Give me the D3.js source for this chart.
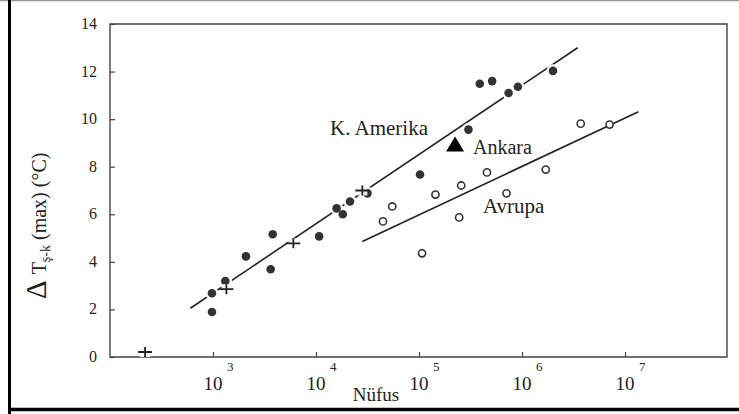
<!DOCTYPE html>
<html>
<head>
<meta charset="utf-8">
<script src="https://cdn.jsdelivr.net/npm/d3@7"></script>
<style>
  html, body { margin: 0; padding: 0; background: #fff; }
  svg { display: block; font-family: "Liberation Serif", "Times New Roman", serif; }
</style>
</head>
<body>
<svg id="chart" width="739" height="414"></svg>
<script>
// ---- data ----
const yTicks = [0, 2, 4, 6, 8, 10, 12, 14];
const xTickExponents = [3, 4, 5, 6, 7];

// K. Amerika (filled circles)
const amerikaPop  = [977, 977, 1318, 2089, 3802, 3631, 10715, 15850, 18200, 21380, 31620, 102300, 302000, 389000, 513000, 741000, 912000, 2000000];
const amerikaTemp = [1.89, 2.68, 3.19, 4.23, 5.16, 3.69, 5.07, 6.25, 6.0, 6.54, 6.88, 7.67, 9.56, 11.49, 11.6, 11.1, 11.36, 12.03];

// plus markers
const plusPop  = [219, 1349, 6026, 28180];
const plusTemp = [0.21, 2.85, 4.78, 7.0];

// Avrupa (open circles)
const avrupaPop  = [44700, 55000, 107000, 144500, 245500, 257000, 457000, 708000, 1700000, 3715000, 7080000];
const avrupaTemp = [5.70, 6.33, 4.36, 6.83, 5.87, 7.21, 7.76, 6.88, 7.88, 9.81, 9.77];

// Ankara (triangle)
const ankaraPop = [224000];
const ankaraTemp = [8.93];

// regression lines (end points)
const amerikaLinePop  = [603, 3467000];
const amerikaLineTemp = [2.05, 13.0];
const avrupaLinePop   = [28180, 13490000];
const avrupaLineTemp  = [4.86, 10.31];

// ---- drawing ----
const svg = d3.select("#chart");
const pLeft = 110, pRight = 727, pTop = 24, pBottom = 357;

const x = d3.scaleLog().domain([1e2, 1e8]).range([pLeft, pRight + 1]);
const y = d3.scaleLinear().domain([0, 14]).range([pBottom, pTop]);

const ink = "#333";

// outer frame
svg.append("line").attr("x1", 0).attr("x2", 739).attr("y1", 0.5).attr("y2", 0.5)
  .attr("stroke", "#999").attr("stroke-width", 1.5);
svg.append("line").attr("x1", 9.5).attr("x2", 9.5).attr("y1", 0).attr("y2", 414)
  .attr("stroke", "#000").attr("stroke-width", 3);
svg.append("line").attr("x1", 8).attr("x2", 739).attr("y1", 409.5).attr("y2", 409.5)
  .attr("stroke", "#000").attr("stroke-width", 3.5);

// plot frame
svg.append("path")
  .attr("d", `M${pLeft},${pBottom}V${pTop}H${pRight}V${pBottom}Z`)
  .attr("fill", "none").attr("stroke", "#444").attr("stroke-width", 1.4);

// y axis (ticks inward)
const yAxis = d3.axisRight(y).tickValues(yTicks).tickSize(5).tickFormat("");
const yg = svg.append("g").attr("transform", `translate(${pLeft},0)`).call(yAxis);
yg.select(".domain").remove();
yg.selectAll("line").attr("stroke", "#444").attr("stroke-width", 1.2);
svg.append("g").selectAll("text").data(yTicks).join("text")
  .attr("x", 97).attr("y", d => y(d) + 5)
  .attr("text-anchor", "end").attr("font-size", 16).attr("fill", "#222")
  .text(d => d);

// x axis (ticks inward)
const xTickVals = xTickExponents.map(e => Math.pow(10, e));
const xAxis = d3.axisTop(x).tickValues(xTickVals).tickSize(5).tickFormat("");
const xg = svg.append("g").attr("transform", `translate(0,${pBottom})`).call(xAxis);
xg.select(".domain").remove();
xg.selectAll("line").attr("stroke", "#444").attr("stroke-width", 1.2);
const xl = svg.append("g").selectAll("g").data(xTickExponents).join("g")
  .attr("transform", e => `translate(${x(Math.pow(10, e))},0)`);
xl.append("text").attr("x", 0).attr("y", 390).attr("text-anchor", "middle")
  .attr("font-size", 19).attr("fill", "#222").text("10");
xl.append("text").attr("x", 14).attr("y", 371).attr("text-anchor", "start")
  .attr("font-size", 13).attr("fill", "#222").text(e => e);

// axis titles
svg.append("text").attr("x", 376).attr("y", 401).attr("text-anchor", "middle")
  .attr("font-size", 19).attr("fill", "#222").text("Nüfus");

const yt = svg.append("text").attr("transform", "translate(46,299) rotate(-90)")
  .attr("text-anchor", "start").attr("fill", "#222");
yt.append("tspan").attr("font-size", 29).text("Δ");
yt.append("tspan").attr("font-size", 20).attr("dx", 6).text("T");
yt.append("tspan").attr("font-size", 14).attr("dy", 4).text("ş-k");
yt.append("tspan").attr("font-size", 20).attr("dy", -4).text(" (max) (°C)");

// regression lines
const lineGen = d3.line().x(d => x(d[0])).y(d => y(d[1]));
svg.append("path").datum(d3.zip(amerikaLinePop, amerikaLineTemp)).attr("d", lineGen)
  .attr("fill", "none").attr("stroke", "#222").attr("stroke-width", 1.6);
svg.append("path").datum(d3.zip(avrupaLinePop, avrupaLineTemp)).attr("d", lineGen)
  .attr("fill", "none").attr("stroke", "#222").attr("stroke-width", 1.6);

// open circles (Avrupa)
svg.append("g").selectAll("circle").data(d3.zip(avrupaPop, avrupaTemp)).join("circle")
  .attr("cx", d => x(d[0])).attr("cy", d => y(d[1])).attr("r", 3.6)
  .attr("fill", "#fff").attr("stroke", ink).attr("stroke-width", 1.6);

// filled circles (K. Amerika) with white halo to break the line
const na = d3.zip(amerikaPop, amerikaTemp);
svg.append("g").selectAll("circle").data(na).join("circle")
  .attr("cx", d => x(d[0])).attr("cy", d => y(d[1])).attr("r", 6.5).attr("fill", "#fff");
svg.append("g").selectAll("circle").data(na).join("circle")
  .attr("cx", d => x(d[0])).attr("cy", d => y(d[1])).attr("r", 4.3).attr("fill", ink);

// plus markers
const pl = svg.append("g").selectAll("g").data(d3.zip(plusPop, plusTemp)).join("g")
  .attr("transform", d => `translate(${x(d[0])},${y(d[1])})`);
pl.append("rect").attr("x", -5).attr("y", -5).attr("width", 10).attr("height", 10).attr("fill", "#fff").attr("opacity", 0.9);
pl.append("path").attr("d", "M-7,0H7M0,-5V5").attr("stroke", "#222").attr("stroke-width", 1.8);

// Ankara triangle
svg.append("g").selectAll("path").data(d3.zip(ankaraPop, ankaraTemp)).join("path")
  .attr("transform", d => `translate(${x(d[0])},${y(d[1])})`)
  .attr("d", "M0,-8L9,7L-9,7Z").attr("fill", "#000");

// labels
svg.append("text").attr("x", 330).attr("y", 135).attr("font-size", 21).attr("fill", "#222").text("K. Amerika");
svg.append("text").attr("x", 473).attr("y", 154).attr("font-size", 20).attr("fill", "#222").text("Ankara");
svg.append("text").attr("x", 483).attr("y", 213).attr("font-size", 21).attr("fill", "#222").text("Avrupa");
</script>
</body>
</html>
